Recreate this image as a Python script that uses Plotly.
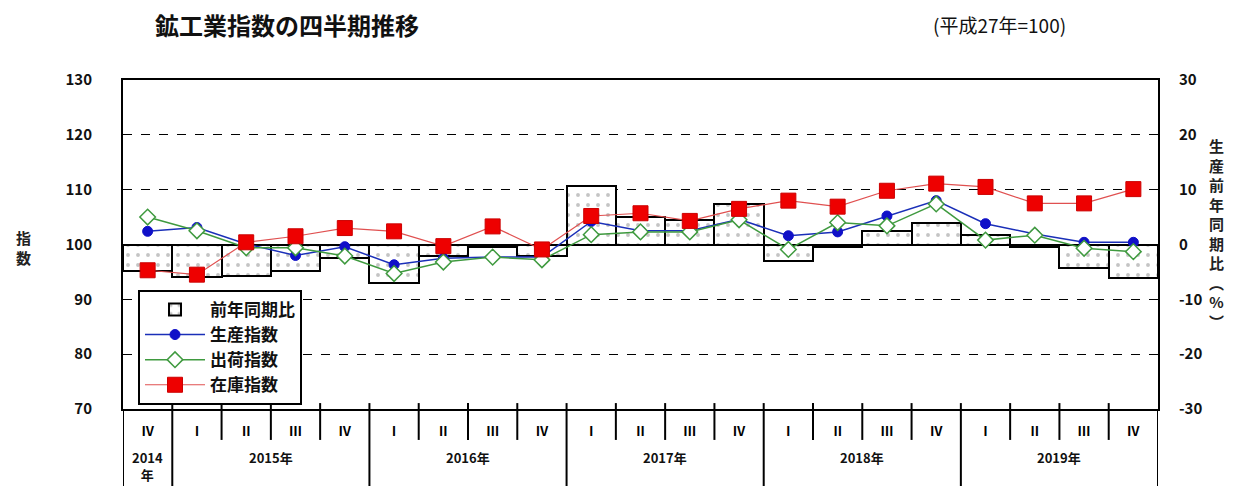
import plotly.graph_objects as go

# ---------------- data ----------------
quarters = ["Ⅳ", "Ⅰ", "Ⅱ", "Ⅲ", "Ⅳ", "Ⅰ", "Ⅱ", "Ⅲ", "Ⅳ", "Ⅰ", "Ⅱ", "Ⅲ", "Ⅳ",
            "Ⅰ", "Ⅱ", "Ⅲ", "Ⅳ", "Ⅰ", "Ⅱ", "Ⅲ", "Ⅳ"]
years = ["2014<br>年", "2015年", "2016年", "2017年", "2018年", "2019年"]
year_quarter_counts = [1, 4, 4, 4, 4, 4]

yoy_pct = [-4.9, -5.9, -5.8, -4.9, -2.4, -7.1, -2.1, -0.5, -2.1, 10.7, 5.1,
           4.5, 7.3, -3.0, -0.4, 2.5, 4.0, 1.8, -0.4, -4.2, -6.1]
production = [102.4, 103.1, 100.1, 98.0, 99.6, 96.3, 97.5, 97.7, 97.7, 104.2, 102.5,
              102.5, 104.6, 101.6, 102.3, 105.2, 108.0, 103.8, 101.9, 100.4, 100.4]
shipments = [105.0, 102.5, 99.4, 99.4, 97.9, 94.7, 96.8, 97.7, 97.2, 101.8, 102.3,
             102.3, 104.5, 99.1, 104.0, 103.4, 107.4, 100.8, 101.7, 99.3, 98.7]
inventory = [95.3, 94.5, 100.4, 101.5, 103.0, 102.4, 99.7, 103.3, 99.1, 105.2, 105.7,
             104.3, 106.5, 108.0, 106.9, 109.8, 111.1, 110.5, 107.5, 107.5, 110.1]

left_ticks = [70, 80, 90, 100, 110, 120, 130]
right_ticks = [-30, -20, -10, 0, 10, 20, 30]
right_ticktext = ["-30", "-20", "-10", "0", "10", "20", "30"]

FONT = "Noto Sans CJK JP, Noto Sans, sans-serif"
x = list(range(len(quarters)))

fig = go.Figure()

fig.add_trace(go.Bar(
    x=x, y=yoy_pct, name="前年同期比", yaxis="y", width=1.0,
    marker=dict(color="white", line=dict(color="black", width=2),
                pattern=dict(shape=".", fgcolor="#8a8a8a", bgcolor="white",
                             size=10, solidity=0.12)),
))
fig.add_trace(go.Scatter(
    x=x, y=production, name="生産指数", yaxis="y2", mode="lines+markers",
    line=dict(color="#1a2fb8", width=1.5),
    marker=dict(symbol="circle", size=10, color="#1010c8", line=dict(color="#1010c8", width=1)),
))
fig.add_trace(go.Scatter(
    x=x, y=shipments, name="出荷指数", yaxis="y2", mode="lines+markers",
    line=dict(color="#3f9a3f", width=1.5),
    marker=dict(symbol="diamond", size=12, color="white", line=dict(color="#3f9a3f", width=1.5)),
))
fig.add_trace(go.Scatter(
    x=x, y=inventory, name="在庫指数", yaxis="y2", mode="lines+markers",
    line=dict(color="#e05050", width=1.2),
    marker=dict(symbol="square", size=15, color="#ee0000", line=dict(color="#cc0000", width=1)),
))

# separators below the axis (quarter ticks and year boundaries)
shapes = []
boundaries = [i + 0.5 for i in range(len(quarters) - 1)]
year_bounds = []
acc = -0.5
for c in year_quarter_counts:
    acc += c
    year_bounds.append(acc)
for b in boundaries:
    if b in year_bounds:
        shapes.append(dict(type="line", xref="x", yref="paper", x0=b, x1=b,
                           y0=0.018, y1=-0.26, line=dict(color="black", width=2)))
    else:
        shapes.append(dict(type="line", xref="x", yref="paper", x0=b, x1=b,
                           y0=0.018, y1=-0.094, line=dict(color="black", width=2)))
for b in [-0.5, len(quarters) - 0.5]:
    shapes.append(dict(type="line", xref="x", yref="paper", x0=b, x1=b,
                       y0=0, y1=-0.26, line=dict(color="black", width=2)))

annotations = []
start = -0.5
for yl, c in zip(years, year_quarter_counts):
    cx = start + c / 2
    start += c
    annotations.append(dict(x=cx, y=-0.112, xref="x", yref="paper", text=yl,
                            showarrow=False, yanchor="top", xanchor="center",
                            font=dict(family=FONT, size=13, color="#111", weight="bold"),
                            align="center"))

annotations.append(dict(x=0.029, y=1.17, xref="paper", yref="paper",
                        text="<b>鉱工業指数の四半期推移</b>", showarrow=False,
                        xanchor="left", yanchor="middle",
                        font=dict(family=FONT, size=24, color="#111")))
annotations.append(dict(x=0.9135, y=1.17, xref="paper", yref="paper",
                        text="(平成27年=100)", showarrow=False,
                        xanchor="right", yanchor="middle",
                        font=dict(family=FONT, size=19, color="#111")))
annotations.append(dict(x=-0.0957, y=0.492, xref="paper", yref="paper",
                        text="<b>指<br>数</b>", showarrow=False,
                        xanchor="center", yanchor="middle",
                        font=dict(family=FONT, size=15, color="#222")))
annotations.append(dict(x=1.0565, y=0.532, xref="paper", yref="paper",
                        text="<b>" + "<br>".join(list("生産前年同期比") + ["︵", "%", "︶"]) + "</b>",
                        showarrow=False, xanchor="center", yanchor="middle",
                        font=dict(family=FONT, size=15, color="#222")))

tickfont = dict(family=FONT, size=15, color="#111", weight="bold")

fig.update_layout(
    width=1238, height=486,
    margin=dict(l=115, r=88, t=72, b=85),
    paper_bgcolor="white", plot_bgcolor="white",
    font=dict(family=FONT, color="#222"),
    barmode="overlay",
    bargap=0,
    xaxis=dict(range=[-0.5, len(quarters) - 0.5], tickmode="array", tickvals=x,
               ticktext=quarters, showgrid=False, zeroline=False,
               showline=True, linecolor="black", linewidth=2, mirror=True,
               ticks="", ticklabelstandoff=9,
               tickfont=dict(family=FONT, size=13, color="#000", weight="bold")),
    yaxis=dict(range=[-30, 30], side="right", tickmode="array", tickvals=right_ticks,
               ticktext=right_ticktext, showgrid=True, gridcolor="black",
               griddash="dash", gridwidth=1, zeroline=False,
               showline=True, linecolor="black", linewidth=2, mirror=True,
               ticks="", ticklabelstandoff=16, tickfont=tickfont),
    yaxis2=dict(range=[70, 130], side="left", overlaying="y", tickmode="array",
                tickvals=left_ticks, showgrid=False, zeroline=False,
                showline=False, ticks="", ticklabelstandoff=30, tickfont=tickfont),
    showlegend=True,
    legend=dict(x=0.0145, y=0.362, xanchor="left", yanchor="top",
                bgcolor="white", bordercolor="black", borderwidth=2,
                font=dict(family=FONT, size=17, color="#111", weight="bold"),
                itemwidth=60, traceorder="normal", tracegroupgap=0),
    shapes=shapes,
    annotations=annotations,
)

fig.write_html("out.html")
